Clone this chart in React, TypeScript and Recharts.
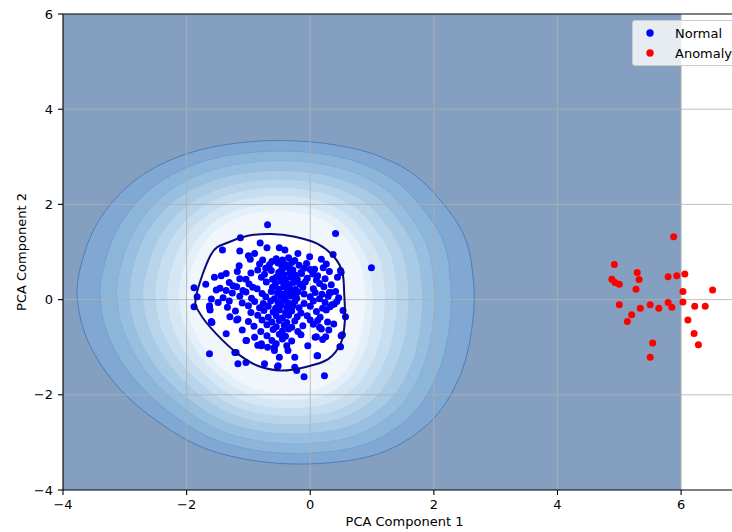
import React from 'react';
import { ScatterChart, Scatter, XAxis, YAxis, ReferenceLine, Legend } from 'recharts';

// ---------- data ----------
const xTicks = [-4, -2, 0, 2, 4, 6];
const yTicks = [-4, -2, 0, 2, 4, 6];
const xGrid = [-2, 0, 2, 4, 6];
const yGrid = [-2, 0, 2, 4];
const xLabel = 'PCA Component 1';
const yLabel = 'PCA Component 2';
const seriesNames = ['Normal', 'Anomaly'];

// extent of the evaluated decision-function mesh
const meshExtent = [[-4, -4], [-4, 6], [6, 6], [6, -4]];

// filled contour levels, outermost first
const contour1 = [[-3.77, 0.05], [-3.66, 0.95], [-3.40, 1.70], [-2.98, 2.35], [-2.45, 2.82], [-1.80, 3.14], [-1.10, 3.30], [-0.40, 3.34], [0.35, 3.26], [1.10, 3.02], [1.80, 2.50], [2.45, 1.45], [2.64, 0.40], [2.61, -0.65], [2.39, -1.70], [1.91, -2.61], [1.10, -3.24], [0.02, -3.45], [-1.06, -3.35], [-1.98, -2.96], [-2.95, -2.05], [-3.55, -1.00]];
const contour2 = [[-3.40, 0.04], [-3.30, 0.89], [-3.07, 1.59], [-2.70, 2.19], [-2.23, 2.63], [-1.66, 2.93], [-1.04, 3.08], [-0.42, 3.12], [0.25, 3.05], [0.91, 2.82], [1.53, 2.33], [2.11, 1.35], [2.27, 0.37], [2.25, -0.61], [2.05, -1.59], [1.63, -2.44], [0.91, -3.03], [-0.05, -3.23], [-1.00, -3.14], [-1.82, -2.77], [-2.67, -1.92], [-3.21, -0.94]];
const contour3 = [[-3.13, 0.04], [-3.04, 0.83], [-2.83, 1.48], [-2.49, 2.05], [-2.07, 2.46], [-1.55, 2.74], [-0.99, 2.88], [-0.43, 2.92], [0.17, 2.85], [0.77, 2.64], [1.33, 2.18], [1.85, 1.26], [2.00, 0.34], [1.98, -0.58], [1.80, -1.49], [1.42, -2.29], [0.77, -2.84], [-0.09, -3.03], [-0.96, -2.94], [-1.69, -2.60], [-2.47, -1.80], [-2.95, -0.88]];
const contour4 = [[-2.93, 0.03], [-2.85, 0.77], [-2.66, 1.38], [-2.35, 1.91], [-1.96, 2.29], [-1.48, 2.55], [-0.96, 2.68], [-0.44, 2.71], [0.12, 2.65], [0.67, 2.45], [1.19, 2.03], [1.67, 1.17], [1.81, 0.32], [1.79, -0.54], [1.63, -1.40], [1.27, -2.14], [0.67, -2.65], [-0.13, -2.82], [-0.93, -2.74], [-1.61, -2.42], [-2.33, -1.68], [-2.77, -0.82]];
const contour5 = [[-2.71, 0.03], [-2.63, 0.71], [-2.46, 1.28], [-2.18, 1.77], [-1.82, 2.13], [-1.39, 2.37], [-0.92, 2.50], [-0.45, 2.53], [0.05, 2.47], [0.56, 2.28], [1.03, 1.89], [1.46, 1.09], [1.59, 0.29], [1.57, -0.51], [1.42, -1.30], [1.10, -2.00], [0.56, -2.47], [-0.17, -2.63], [-0.89, -2.56], [-1.51, -2.26], [-2.16, -1.57], [-2.56, -0.77]];
const contour6 = [[-2.51, 0.02], [-2.45, 0.66], [-2.29, 1.19], [-2.03, 1.65], [-1.71, 1.99], [-1.31, 2.22], [-0.89, 2.33], [-0.46, 2.36], [0.00, 2.30], [0.46, 2.13], [0.88, 1.76], [1.28, 1.02], [1.40, 0.27], [1.38, -0.48], [1.24, -1.22], [0.95, -1.87], [0.46, -2.32], [-0.20, -2.46], [-0.86, -2.39], [-1.42, -2.12], [-2.01, -1.47], [-2.38, -0.73]];
const contour7 = [[-2.32, 0.02], [-2.26, 0.61], [-2.12, 1.11], [-1.89, 1.53], [-1.60, 1.84], [-1.24, 2.06], [-0.85, 2.16], [-0.47, 2.19], [-0.06, 2.14], [0.36, 1.98], [0.74, 1.63], [1.10, 0.94], [1.21, 0.25], [1.19, -0.45], [1.07, -1.14], [0.80, -1.74], [0.36, -2.16], [-0.24, -2.29], [-0.83, -2.23], [-1.34, -1.97], [-1.87, -1.37], [-2.20, -0.68]];
const contour8 = [[-2.13, 0.01], [-2.07, 0.56], [-1.95, 1.02], [-1.74, 1.41], [-1.48, 1.70], [-1.16, 1.90], [-0.82, 1.99], [-0.48, 2.02], [-0.11, 1.97], [0.26, 1.82], [0.60, 1.51], [0.92, 0.87], [1.01, 0.23], [1.00, -0.42], [0.89, -1.06], [0.66, -1.61], [0.26, -2.00], [-0.27, -2.12], [-0.80, -2.06], [-1.25, -1.83], [-1.73, -1.27], [-2.02, -0.63]];
const contour9 = [[-2.00, 0.01], [-1.95, 0.52], [-1.83, 0.94], [-1.64, 1.31], [-1.41, 1.57], [-1.11, 1.75], [-0.80, 1.84], [-0.48, 1.87], [-0.15, 1.82], [0.19, 1.69], [0.51, 1.39], [0.80, 0.80], [0.89, 0.20], [0.87, -0.39], [0.77, -0.98], [0.56, -1.50], [0.19, -1.85], [-0.29, -1.97], [-0.78, -1.92], [-1.19, -1.69], [-1.63, -1.18], [-1.90, -0.59]];

// decision function = 0
const decisionBoundary = [[-1.85, 0.05], [-1.60, 0.96], [-1.33, 1.20], [-1.01, 1.34], [-0.63, 1.38], [-0.25, 1.32], [0.12, 1.17], [0.39, 0.89], [0.52, 0.57], [0.55, 0.12], [0.56, -0.44], [0.50, -0.90], [0.29, -1.25], [-0.09, -1.42], [-0.47, -1.49], [-0.85, -1.39], [-1.17, -1.14], [-1.52, -0.72], [-1.78, -0.30]];

const normalPoints = [
  [-0.69, 1.57], [0.41, 1.39], [0.99, 0.67], [-1.13, 1.30], [-0.81, 1.19], [-1.42, 1.04], [-1.14, 1.02], [-0.70, 1.09], [-1.00, 0.92], [-0.90, 0.97],
  [-0.97, 0.85], [-0.50, 1.09], [-0.41, 1.04], [-0.20, 0.97], [-0.01, 0.90], [0.18, 0.85], [0.26, 0.75], [0.37, 0.95], [-0.82, 0.75], [-0.77, 0.83],
  [-0.85, 0.62], [-1.15, 0.71], [-1.18, 0.59], [-1.36, 0.55], [-1.44, 0.50], [-1.55, 0.47], [-1.69, 0.32], [-1.88, 0.25], [-1.52, 0.20], [-1.60, 0.01],
  [-1.63, -0.16], [-1.88, -0.15], [-1.83, 0.06], [-1.36, 0.19], [-1.25, 0.29], [-1.04, 0.43], [-1.09, 0.19], [-0.93, 0.26], [-0.63, 0.61], [-0.55, 0.47],
  [-0.47, 0.75], [-0.34, 0.68], [-0.25, 0.82], [-0.15, 0.57], [0.07, 0.64], [0.12, 0.50], [0.31, 0.59], [0.44, 0.47], [0.50, 0.57], [0.49, 0.61],
  [0.31, 0.15], [0.39, -0.09], [0.53, -0.23], [0.57, -0.36], [0.50, -0.76], [0.49, -0.99], [0.38, -0.51], [0.12, -0.44], [0.18, -0.62], [0.08, -0.79],
  [-0.04, -0.97], [0.12, -1.18], [0.23, -1.60], [-0.10, -1.62], [-0.25, -1.21], [-0.52, -1.39], [-0.74, -1.35], [-1.04, -1.32], [-1.17, -1.35], [-1.63, -1.14],
  [-1.20, -1.11], [-1.04, -0.86], [-1.36, -0.72], [-1.60, -0.46], [-1.17, -0.41], [-0.90, -0.79], [-0.79, -0.93], [-0.69, -1.00], [-0.50, -1.21], [-0.58, -1.07],
  [-0.36, -1.07], [-0.25, -1.42], [0.33, 0.15], [0.35, -0.11], [0.15, -0.58], [0.10, -0.78], [-0.22, -1.49], [0.11, -1.18], [0.48, -0.99], [0.52, -0.74],
  [-0.58, -1.00], [-0.79, -0.97], [-1.63, -0.13], [-1.62, -0.22], [-1.59, -0.48], [-1.22, -1.11], [-0.53, -1.41], [-1.03, -0.86], [-1.19, -0.43],
  [-0.55, 0.86], [-0.45, 0.83], [-0.35, 0.88], [-0.62, 0.80],
  [-0.66, 0.73], [-0.52, 0.77], [-0.40, 0.74], [-0.30, 0.78], [-0.18, 0.72], [-0.06, 0.76],
  [-0.72, 0.66], [-0.46, 0.64], [-0.38, 0.68], [-0.28, 0.62], [-0.10, 0.66], [0.00, 0.63], [0.21, 0.67],
  [-0.96, 0.56], [-0.74, 0.53], [-0.51, 0.57], [-0.42, 0.52], [-0.33, 0.56], [-0.24, 0.51], [-0.14, 0.55], [0.04, 0.54],
  [-1.14, 0.44], [-0.79, 0.47], [-0.61, 0.43], [-0.48, 0.46], [-0.40, 0.42], [-0.31, 0.47], [-0.21, 0.43], [-0.05, 0.45], [0.10, 0.41], [0.24, 0.44],
  [-1.31, 0.36], [-0.99, 0.33], [-0.71, 0.37], [-0.56, 0.34], [-0.46, 0.38], [-0.36, 0.32], [-0.27, 0.36], [-0.17, 0.33], [-0.08, 0.37], [0.15, 0.34], [0.34, 0.31],
  [-1.46, 0.24], [-1.19, 0.27], [-0.86, 0.23], [-0.61, 0.26], [-0.51, 0.22], [-0.43, 0.27], [-0.33, 0.24], [-0.24, 0.21], [-0.12, 0.26], [0.05, 0.23], [0.22, 0.27],
  [-1.26, 0.14], [-1.04, 0.16], [-0.78, 0.13], [-0.63, 0.17], [-0.53, 0.14], [-0.44, 0.12], [-0.37, 0.17], [-0.29, 0.13], [-0.20, 0.16], [-0.10, 0.12], [0.08, 0.15], [0.19, 0.11], [0.41, 0.17],
  [-1.41, 0.04], [-1.14, 0.07], [-0.95, 0.03], [-0.72, 0.06], [-0.58, 0.02], [-0.48, 0.07], [-0.40, 0.04], [-0.31, 0.08], [-0.22, 0.03], [0.00, 0.06], [0.15, 0.02], [0.29, 0.07], [0.46, 0.04],
  [-1.49, -0.06], [-1.31, -0.03], [-1.10, -0.07], [-0.90, -0.04], [-0.76, -0.08], [-0.64, -0.03], [-0.52, -0.06], [-0.43, -0.02], [-0.35, -0.07], [-0.25, -0.04], [-0.10, -0.08], [0.05, -0.03], [0.24, -0.06], [0.43, -0.04],
  [-1.34, -0.16], [-1.00, -0.13], [-0.82, -0.17], [-0.68, -0.14], [-0.56, -0.18], [-0.47, -0.12], [-0.38, -0.16], [-0.28, -0.13], [-0.18, -0.17], [0.00, -0.14], [0.20, -0.18], [0.32, -0.15],
  [-1.21, -0.24], [-0.96, -0.27], [-0.75, -0.23], [-0.60, -0.26], [-0.50, -0.22], [-0.40, -0.27], [-0.30, -0.24], [-0.15, -0.28], [0.10, -0.25], [0.26, -0.22],
  [-1.30, -0.36], [-0.85, -0.33], [-0.68, -0.37], [-0.55, -0.34], [-0.45, -0.38], [-0.35, -0.33], [-0.21, -0.36], [-0.05, -0.34], [0.16, -0.37],
  [-1.00, -0.46], [-0.78, -0.43], [-0.62, -0.47], [-0.50, -0.44], [-0.38, -0.48], [-0.25, -0.45], [0.00, -0.43], [0.28, -0.47],
  [-0.91, -0.56], [-0.70, -0.53], [-0.55, -0.57], [-0.42, -0.54], [-0.30, -0.58], [-0.12, -0.55], [0.05, -0.52],
  [-1.10, -0.64], [-0.80, -0.67], [-0.60, -0.63], [-0.45, -0.66], [-0.35, -0.62], [-0.20, -0.67], [0.30, -0.64],
  [-0.70, -0.76], [-0.50, -0.73], [-0.40, -0.77], [-0.15, -0.74], [0.25, -0.78],
  [-0.62, -0.86], [-0.45, -0.83], [-0.30, -0.87], [0.20, -0.84],
  [-0.85, -0.96], [-0.55, -0.93], [-0.38, -0.97],
];

const anomalyPoints = [
  [5.88, 1.32], [4.92, 0.74], [5.29, 0.57], [5.32, 0.42], [4.88, 0.43], [4.93, 0.36], [5.00, 0.32], [5.27, 0.22], [5.79, 0.48], [5.93, 0.50],
  [6.06, 0.54], [6.03, 0.17], [6.51, 0.20], [6.03, -0.05], [5.79, -0.06], [5.85, -0.16], [5.00, -0.11], [5.34, -0.18], [5.50, -0.11], [5.64, -0.18],
  [6.22, -0.14], [6.39, -0.14], [5.20, -0.32], [5.13, -0.46], [6.11, -0.43], [6.21, -0.71], [6.28, -0.95], [5.54, -0.91], [5.50, -1.21],
];

// ---------- styles ----------
const FONT = '"DejaVu Sans", sans-serif';
const meshFill = '#849fbf';
const contourFills = ['#80a8d2', '#8cb5da', '#99bfe0', '#a8cae5', '#b7d4ea', '#c6def0', '#d5e7f5', '#e3eff9', '#f0f6fc'];
const contourStrokes = ['#4a7fbc', '#72a1d0', '#84b0d8', '#95bddf', '#a7c9e5', '#b8d4eb', '#c9dff1', '#d9e9f6', '#e9f2fa'];
const DOT_R = 3.5;

const toXY = (a: number[][]) => a.map(([x, y]) => ({ x, y }));
const contours = [contour1, contour2, contour3, contour4, contour5, contour6, contour7, contour8, contour9];

type Pt = { x: number; y: number };
const smoothClosed = (pts: Pt[]) => {
  const n = pts.length;
  if (!n) return '';
  let d = `M${pts[0].x},${pts[0].y}`;
  for (let i = 0; i < n; i++) {
    const p0 = pts[(i - 1 + n) % n];
    const p1 = pts[i];
    const p2 = pts[(i + 1) % n];
    const p3 = pts[(i + 2) % n];
    const c1x = p1.x + (p2.x - p0.x) / 6;
    const c1y = p1.y + (p2.y - p0.y) / 6;
    const c2x = p2.x - (p3.x - p1.x) / 6;
    const c2y = p2.y - (p3.y - p1.y) / 6;
    d += ` C${c1x},${c1y} ${c2x},${c2y} ${p2.x},${p2.y}`;
  }
  return d + ' Z';
};
const polygon = (pts: Pt[]) => (pts.length ? 'M' + pts.map((p) => `${p.x},${p.y}`).join(' L') + ' Z' : '');

const fmt = (v: number) => (v < 0 ? `\u2212${Math.abs(v)}` : `${v}`);
const noShape = () => <g />;

const LegendBox = (props: any) => {
  const items = (props.payload || [])
    .filter((p: any) => p.type !== 'none' && seriesNames.includes(p.value))
    .sort((a: any, b: any) => seriesNames.indexOf(a.value) - seriesNames.indexOf(b.value));
  return (
    <div
      style={{
        background: 'rgba(255,255,255,0.8)',
        border: '1px solid #cccccc',
        borderRadius: 3,
        padding: '2px 20px 2px 0',
        fontFamily: FONT,
        fontSize: 13,
        color: '#000',
        whiteSpace: 'nowrap',
      }}
    >
      {items.map((it: any) => (
        <div key={it.value} style={{ height: 20, display: 'flex', alignItems: 'center' }}>
          <svg width={42} height={20} style={{ display: 'block' }}>
            <circle cx={17} cy={10} r={3.7} fill={it.color} />
          </svg>
          <span>{it.value}</span>
        </div>
      ))}
    </div>
  );
};

export default function App() {
  return (
    <div style={{ position: 'absolute', left: 0, top: 0, width: 732, height: 532, overflow: 'hidden', background: '#fff' }}>
      <ScatterChart width={746} height={532} margin={{ top: 14, right: 0, bottom: 0, left: 0 }}>
        <XAxis
          type="number"
          dataKey="x"
          domain={[-4, 7.05]}
          allowDataOverflow
          ticks={xTicks}
          tickFormatter={fmt}
          height={42}
          tickSize={5}
          tickMargin={5}
          axisLine={{ stroke: '#000', strokeWidth: 1.1 }}
          tickLine={{ stroke: '#000', strokeWidth: 1.1 }}
          tick={{ fill: '#000', fontSize: 13, fontFamily: FONT }}
          zIndex={700}
          label={{
            content: (p: any) => {
              const vb = p.viewBox || { x: 63, y: 490, width: 683 };
              return (
                <text x={vb.x + vb.width / 2} y={vb.y + 31} textAnchor="middle" dominantBaseline="central" fontSize={13} fontFamily={FONT} fill="#000">
                  {xLabel}
                </text>
              );
            },
          }}
        />
        <YAxis
          type="number"
          dataKey="y"
          domain={[-4, 6]}
          allowDataOverflow
          ticks={yTicks}
          tickFormatter={fmt}
          width={63}
          tickSize={5}
          tickMargin={5}
          axisLine={{ stroke: '#000', strokeWidth: 1.1 }}
          tickLine={{ stroke: '#000', strokeWidth: 1.1 }}
          tick={{ fill: '#000', fontSize: 13, fontFamily: FONT }}
          zIndex={700}
          label={{
            content: (p: any) => {
              const vb = p.viewBox || { y: 14, height: 476 };
              const cy = vb.y + vb.height / 2;
              return (
                <text x={21} y={cy} transform={`rotate(-90, 21, ${cy})`} textAnchor="middle" dominantBaseline="central" fontSize={13} fontFamily={FONT} fill="#000">
                  {yLabel}
                </text>
              );
            },
          }}
        />

        <Scatter
          data={toXY(meshExtent)}
          isAnimationActive={false}
          legendType="none"
          shape={noShape}
          line={(p: any) => <path d={polygon(p.points)} fill={meshFill} stroke="none" />}
        />
        {contours.map((c, i) => (
          <Scatter
            key={`c${i}`}
            data={toXY(c)}
            isAnimationActive={false}
            legendType="none"
            shape={noShape}
            line={(p: any) => <path d={smoothClosed(p.points)} fill={contourFills[i]} stroke={contourStrokes[i]} strokeWidth={1} />}
          />
        ))}
        <Scatter
          data={toXY(decisionBoundary)}
          isAnimationActive={false}
          legendType="none"
          shape={noShape}
          line={(p: any) => <path d={smoothClosed(p.points)} fill="#ffffff" stroke="none" />}
        />

        {xGrid.map((v) => (
          <ReferenceLine key={`gx${v}`} x={v} stroke="#b0b0b0" strokeWidth={0.8} zIndex={610} />
        ))}
        {yGrid.map((v) => (
          <ReferenceLine key={`gy${v}`} y={v} stroke="#b0b0b0" strokeWidth={0.8} zIndex={610} />
        ))}

        <Scatter
          name={seriesNames[0]}
          data={toXY(normalPoints)}
          fill="#0000ff"
          legendType="circle"
          isAnimationActive={false}
          zIndex={620}
          shape={(p: any) => <circle cx={p.cx} cy={p.cy} r={DOT_R} fill="#0000ff" />}
        />
        <Scatter
          name={seriesNames[1]}
          data={toXY(anomalyPoints)}
          fill="#ff0000"
          legendType="circle"
          isAnimationActive={false}
          zIndex={620}
          shape={(p: any) => <circle cx={p.cx} cy={p.cy} r={DOT_R} fill="#ff0000" />}
        />
        <Scatter
          data={toXY(decisionBoundary)}
          isAnimationActive={false}
          legendType="none"
          shape={noShape}
          zIndex={630}
          line={(p: any) => <path d={smoothClosed(p.points)} fill="none" stroke="#0b0b7a" strokeWidth={2} />}
        />
        <ReferenceLine y={6} stroke="#000" strokeWidth={1.1} zIndex={700} />

        <Legend
          layout="vertical"
          align="center"
          verticalAlign="middle"
          wrapperStyle={{ left: 632, top: 20, width: 'auto', height: 'auto' }}
          content={LegendBox}
        />
      </ScatterChart>
    </div>
  );
}
